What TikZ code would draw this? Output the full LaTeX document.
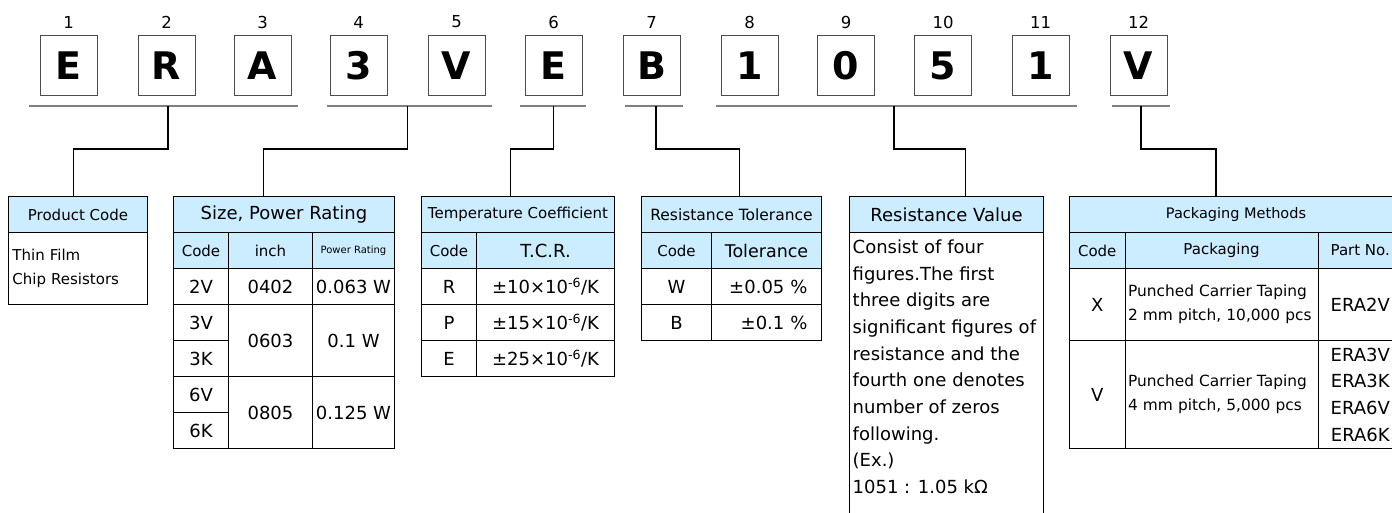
\documentclass[tikz,border=0pt]{standalone}
\usepackage{fontspec}
\setmainfont{DejaVu Sans}
\usepackage{xcolor}
\usetikzlibrary{calc}
\definecolor{headblue}{HTML}{CCECFF}
\newcommand{\fs}[1]{\fontsize{#1}{#1}\selectfont}
\newcommand{\fsl}[2]{\fontsize{#1}{#2}\selectfont}

\begin{document}
\begin{tikzpicture}
    [x=1pt, y=-1pt,
     letter/.style={rectangle, draw=black!70, line width=1pt, minimum width=57pt, minimum height=60pt, inner sep=0pt, font=\fs{38}\bfseries},
     posnum/.style={inner sep=0pt, font=\fs{16.5}},
     cell/.style={rectangle, draw=black, line width=1pt, inner sep=0pt, anchor=north west, align=center, font=\fs{18}},
     head/.style={cell, fill=headblue, font=\fs{15}},
     bar/.style={draw=black!50, line width=1.2pt},
     link/.style={draw=black, line width=1.5pt}]
    \clip (0,0) rectangle (1392,513);
    % part number boxes
    \foreach \i/\ch/\x in {1/E/68.5,2/R/166.5,3/A/262.5,4/3/358.5,5/V/456.5,6/E/553.5,7/B/651.5,8/1/749.5,9/0/846,10/5/943,11/1/1040.5,12/V/1138.5}{
        \node(l\i)[letter] at (\x,66) {\ch};
        \node(n\i)[posnum] at (\x,22) {\i};
    }
    % groups under the boxes
    \foreach \a/\b/\d/\nm in {29/298/168/u1,327/492/407.6/u2,520/586/553.6/u3,624.5/683/656/u4,715.5/1076.5/894/u5,1111.5/1170/1141/u6}{
        \draw[bar] (\a,106) -- (\b,106);
        \coordinate (\nm) at (\d,106);
    }

    % product code
    \node(pc)[head, minimum width=139pt, minimum height=36pt] at (8,196) {Product Code};
    \node(pcb)[cell, minimum width=139pt, minimum height=72pt, text width=131pt, align=left, font=\fsl{15}{24}] at (8,232) {Thin Film\\Chip Resistors};

    % size, power rating
    \node(sz)[head, minimum width=221pt, minimum height=36pt, font=\fs{18}] at (173,196) {Size, Power Rating};
    \foreach \nm/\x/\w/\t/\f in {szc/173/55/Code/15,szi/228/84/inch/15,szp/312/82/Power Rating/10}
        \node(\nm)[head, minimum width=\w pt, minimum height=36pt, font=\fs{\f}] at (\x,232) {\t};
    \foreach \k/\t/\y in {1/2V/268,2/3V/304,3/3K/340,4/6V/376,5/6K/412}
        \node(szc\k)[cell, minimum width=55pt, minimum height=36pt] at (173,\y) {\t};
    \foreach \k/\t/\u/\y/\h in {1/0402/0.063 W/268/36,2/0603/0.1 W/304/72,3/0805/0.125 W/376/72}{
        \node(szi\k)[cell, minimum width=84pt, minimum height=\h pt] at (228,\y) {\t};
        \node(szp\k)[cell, minimum width=82pt, minimum height=\h pt] at (312,\y) {\u};
    }

    % temperature coefficient
    \node(tc)[head, minimum width=193pt, minimum height=36pt] at (421,196) {Temperature Coefficient};
    \node(tcc)[head, minimum width=55pt, minimum height=36pt] at (421,232) {Code};
    \node(tcr)[head, minimum width=138pt, minimum height=36pt, font=\fs{18}] at (476,232) {T.C.R.};
    \foreach \k/\t/\v/\y in {1/R/10/268,2/P/15/304,3/E/25/340}{
        \node(tcc\k)[cell, minimum width=55pt, minimum height=36pt] at (421,\y) {\t};
        \node(tcr\k)[cell, minimum width=138pt, minimum height=36pt] at (476,\y) {±\v×10\textsuperscript{-6}/K};
    }

    % resistance tolerance
    \node(tol)[head, minimum width=180pt, minimum height=36pt, font=\fs{15.5}] at (641,196) {Resistance Tolerance};
    \node(tolc)[head, minimum width=70pt, minimum height=36pt] at (641,232) {Code};
    \node(tolt)[head, minimum width=110pt, minimum height=36pt, font=\fs{17.5}] at (711,232) {Tolerance};
    \foreach \k/\t/\v/\y in {1/W/0.05/268,2/B/0.1/304}{
        \node(tolc\k)[cell, minimum width=70pt, minimum height=36pt] at (641,\y) {\t};
        \node(tolt\k)[cell, minimum height=36pt, inner xsep=14pt, text width=82pt, align=right] at (711,\y) {±\v~\%};
    }

    % resistance value
    \node(rv)[head, minimum width=194pt, minimum height=36pt, font=\fs{18}] at (849,196) {Resistance Value};
    \node(rvb)[cell, minimum width=194pt, minimum height=300pt] at (849,232) {};
    \node(rvt)[anchor=north west, inner sep=0pt, align=left, font=\fsl{18}{26.7}] at (852.5,239.5)
        {Consist of four\\figures.The first\\three digits are\\significant figures of\\resistance and the\\fourth one denotes\\number of zeros\\following.\\(Ex.)\\1051 : 1.05 kΩ};

    % packaging methods
    \node(pk)[head, minimum width=333pt, minimum height=36pt, font=\fs{14.5}] at (1069,196) {Packaging Methods};
    \foreach \nm/\x/\w/\t in {pkc/1069/55.5/Code,pkp/1124.5/193/Packaging,pkn/1317.5/84.5/Part No.}
        \node(\nm)[head, minimum width=\w pt, minimum height=36pt] at (\x,232) {\t};
    \foreach \k/\t/\p/\n/\y/\h in {1/X/2 mm pitch{,} 10{,}000 pcs/ERA2V/268/72,2/V/4 mm pitch{,} 5{,}000 pcs/ERA3V\\ERA3K\\ERA6V\\ERA6K/340/108}{
        \node(pkc\k)[cell, minimum width=55.5pt, minimum height=\h pt] at (1069,\y) {\t};
        \node(pkp\k)[cell, minimum width=193pt, minimum height=\h pt, text width=187pt, align=left, font=\fsl{15.4}{24}] at (1124.5,\y) {Punched Carrier Taping\\\p};
        \node(pkn\k)[cell, minimum width=84.5pt, minimum height=\h pt, font=\fsl{18}{26.7}] at (1317.5,\y) {\n};
    }

    % connectors
    \draw[link] (u1) -- ++(0,43) -| ([xshift=-4.5pt]pc.north);
    \draw[link] (u2) -- ++(0,43) -| ([xshift=-20.5pt]sz.north);
    \draw[link] (u3) -- ++(0,43) -| ([xshift=-7.5pt]tc.north);
    \draw[link] (u4) -- ++(0,43) -| ([xshift=8pt]tol.north);
    \draw[link] (u5) -- ++(0,43) -| ([xshift=19pt]rv.north);
    \draw[link] (u6) -- ++(0,43) -| ([xshift=-20pt]pk.north);
\end{tikzpicture}
\end{document}
